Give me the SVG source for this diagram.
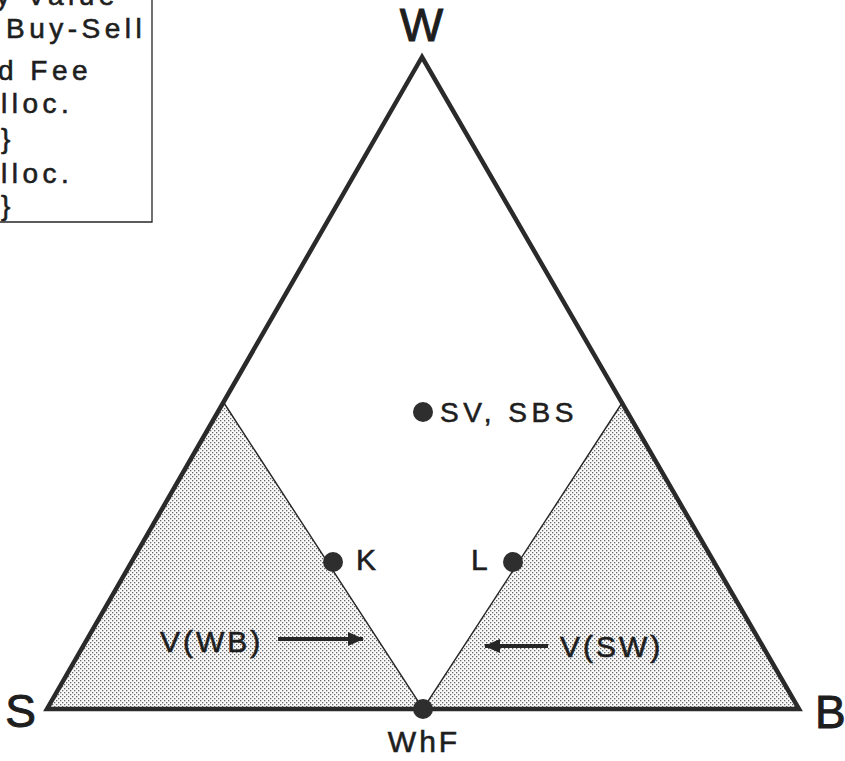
<svg xmlns="http://www.w3.org/2000/svg" width="845" height="761" viewBox="0 0 845 761">
<defs>
<pattern id="stip" width="4" height="4" patternUnits="userSpaceOnUse">
<rect x="0" y="0" width="4" height="4" fill="#fbfbfb"/>
<rect x="0" y="0" width="1.3" height="1.3" fill="#666"/>
<rect x="2" y="2" width="1.3" height="1.3" fill="#666"/>
</pattern>
<marker id="ah" viewBox="0 0 16 14" refX="15" refY="7" markerWidth="16" markerHeight="14" markerUnits="userSpaceOnUse" orient="auto">
<path d="M0,0 L16,7 L0,14 Z" fill="#262626"/>
</marker>
<style>
.t{font-family:"Liberation Sans",Arial,Helvetica,sans-serif;fill:#1e1e1e;stroke:#1e1e1e;stroke-width:0.6}
.lg{font-size:28px;letter-spacing:4.5px}
.lb{font-size:30px;letter-spacing:3px}
.big{font-size:46px;stroke-width:1}
.dot{fill:#2e2e2e}
.thin{stroke:#262626;stroke-width:1.4;fill:none}
.thick{stroke:#2a2a2a;stroke-width:4.5;fill:none;stroke-linejoin:miter}
.arr{stroke:#262626;stroke-width:4;fill:none}
</style>
</defs>
<rect width="845" height="761" fill="#fff"/>

<g id="legend">
<path d="M152,0 V222 H0" fill="none" stroke="#262626" stroke-width="1.3"/>
<text class="t lg" x="-4" y="5">y Value</text>
<text class="t lg" x="6" y="38">Buy-Sell</text>
<text class="t lg" x="-2" y="80">d Fee</text>
<text class="t lg" x="1" y="113">lloc.</text>
<text class="t lg" x="1" y="148">}</text>
<text class="t lg" x="1" y="183">lloc.</text>
<text class="t lg" x="1" y="215">}</text>
</g>

<g id="regions">
<polygon points="47,709 224,403 423,709" fill="url(#stip)"/>
<polygon points="799,709 622,403 423,709" fill="url(#stip)"/>
<polyline class="thin" points="224,403 423,709 622,403"/>
</g>

<g id="triangle">
<polygon class="thick" points="422,57 47,709 799,709"/>
</g>

<g id="connectors">
<line class="arr" x1="278" y1="639" x2="363" y2="639" marker-end="url(#ah)"/>
<line class="arr" x1="548" y1="646" x2="485" y2="646" marker-end="url(#ah)"/>
</g>

<g id="node-W"><text class="t big" x="421.5" y="41" text-anchor="middle">W</text></g>
<g id="node-S"><text class="t big" x="20.5" y="727" text-anchor="middle">S</text></g>
<g id="node-B"><text class="t big" x="815" y="728">B</text></g>
<g id="node-WhF">
<circle class="dot" cx="423" cy="709" r="10"/>
<text class="t lb" x="424" y="752" text-anchor="middle">WhF</text>
</g>
<g id="node-SV">
<circle class="dot" cx="423" cy="412" r="10"/>
<text class="t lg" x="440" y="422">SV, SBS</text>
</g>
<g id="node-K">
<circle class="dot" cx="333" cy="562" r="10"/>
<text class="t lb" x="356" y="570">K</text>
</g>
<g id="node-L">
<circle class="dot" cx="513" cy="562" r="10"/>
<text class="t lb" x="471" y="570">L</text>
</g>
<g id="node-VWB"><text class="t lb" x="160" y="652">V(WB)</text></g>
<g id="node-VSW"><text class="t lb" x="560" y="657">V(SW)</text></g>
</svg>
